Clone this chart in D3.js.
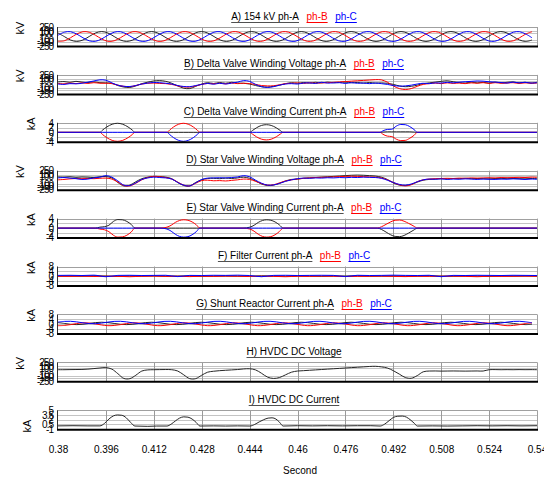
<!DOCTYPE html>
<html><head><meta charset="utf-8">
<script src="https://cdn.jsdelivr.net/npm/d3@7"></script>
<style>
body{margin:0;background:#fff}
text{font-family:"Liberation Sans",Arial,Helvetica,sans-serif}
</style>
</head><body>
<svg id="chart" width="544" height="480"></svg>
<script>
// ---------------- DATA ----------------
const xTickValues = [0.38,0.396,0.412,0.428,0.444,0.46,0.476,0.492,0.508,0.524,0.54];
const xTickLabels = ["0.38","0.396","0.412","0.428","0.444","0.46","0.476","0.492","0.508","0.524","0.54"];
const xTitle = "Second";

const panelTitles = ["A) 154 kV ph-A","B) Delta Valve Winding Voltage ph-A","C) Delta Valve Winding Current ph-A",
  "D) Star Valve Winding Voltage ph-A","E) Star Valve Winding Current ph-A","F) Filter Current ph-A",
  "G) Shunt Reactor Current ph-A","H) HVDC DC Voltage","I) HVDC DC Current"];
const phaseNames = ["ph-B","ph-C"];
const units = ["kV","kV","kA","kV","kA","kA","kA","kV","kA"];

const kvTicks = [250,150,100,-100,-150,-250];
const ka4Ticks = [4,2,0,-2,-4];
const ka8Ticks = [8,4,0,-4,-8];
const dcTicks = [5,3.5,2,0.5,-1];

// A) 154 kV (sampled every 1/480 s from 0.38 s)
const aPhA = [92,0,-92,-130,-92,0,92,130, 92,0,-92,-130,-92,0,92,130, 92,0,-92,-130,-92,0,92,130,
  92,0,-92,-130,-92,0,92,130, 92,0,-92,-130,-92,0,92,130, 92,0,-92,-130,-92,0,92,130,
  92,0,-92,-130,-92,0,92,130, 92,0,-92,-130,-92,0,92,130, 92,0,-92,-130,-92,0,92,130, 92,0,-92,-130,-92];
const aPhB = [-126,-113,-34,65,126,113,34,-65, -126,-113,-34,65,126,113,34,-65, -126,-113,-34,65,126,113,34,-65,
  -126,-113,-34,65,126,113,34,-65, -126,-113,-34,65,126,113,34,-65, -126,-113,-34,65,126,113,34,-65,
  -126,-113,-34,65,126,113,34,-65, -126,-113,-34,65,126,113,34,-65, -126,-113,-34,65,126,113,34,-65, -126,-113,-34,65,126];
const aPhC = [34,113,126,65,-34,-113,-126,-65, 34,113,126,65,-34,-113,-126,-65, 34,113,126,65,-34,-113,-126,-65,
  34,113,126,65,-34,-113,-126,-65, 34,113,126,65,-34,-113,-126,-65, 34,113,126,65,-34,-113,-126,-65,
  34,113,126,65,-34,-113,-126,-65, 34,113,126,65,-34,-113,-126,-65, 34,113,126,65,-34,-113,-126,-65, 34,113,126,65,-34];

// B) Delta valve winding voltage (every 2 ms)
const bPhA = [65,75,55,80,60,50,65,45, 40,30,-30,-70,-80,-40,20,60, 90,100,80,30,-40,-100,-110,-50,
  10,45,25,50,30,55,35,30, 10,-30,-60,-70,-50,-20,20,45, 30,50,35,55,40,60,45,50,
  60,45,50,35,50,35,40,30, 0,-40,-60,-50,-20,20,40,60, 80,95,70,50,35,60,40,55, 35,60,40,55,65,40,55,35, 55];
const bPhB = [25,15,35,20,40,25,45,30, 30,20,-20,-50,-60,-30,10,30, 35,25,20,0,-40,-65,-70,-40,
  0,25,15,30,15,35,20,30, 20,0,-30,-40,-35,-10,20,30, 40,25,45,30,40,45,55,65,
  75,85,95,105,115,125,120,60, -40,-110,-135,-110,-50,0,20,35, 20,40,25,35,20,40,30,45, 25,45,30,35,45,25,40,30, 35];
const bPhC = [10,0,20,15,30,60,90,120, 110,40,-20,-50,-55,-30,10,35, 50,45,30,10,-30,-55,-60,-30,
  0,25,5,30,10,35,60,100, 80,0,-60,-80,-60,-20,10,20, 10,35,40,25,55,35,40,45,
  25,45,30,35,20,35,20,0, -30,-45,-40,-20,10,30,20,40, 35,55,40,60,70,80,90,85, 70,60,50,35,60,40,55,35, 45];

// C) Delta valve winding current (irregular sample times)
const cTime = [0.38,
  0.394,0.3949,0.3963,0.3981,0.39985,0.4016,0.4034,0.4048,0.4057,
  0.4164,0.4173,0.4186,0.4203,0.4219,0.4235,0.4252,0.4265,0.4274,
  0.4441,0.445,0.4463,0.448,0.4496,0.4512,0.4529,0.4542,0.4552,
  0.4876,0.4885,0.49,0.4915,0.493,0.4945,0.496,0.4975,0.499,0.5,
  0.54];
const cPhA = [0, 0,0.95,2.25,3.4,3.8,3.4,2.25,0.95,0, 0,0,0,0,0,0,0,0,0,
  0,0.8,1.9,2.9,3.2,2.9,1.9,0.8,0, 0,0.1,0.2,0.2,0.2,0.2,0.2,0.2,0.1,0, 0];
const cPhB = [0, 0,-0.95,-2.25,-3.4,-3.8,-3.4,-2.25,-0.95,0, 0,0.95,2.25,3.4,3.8,3.4,2.25,0.95,0,
  0,-0.8,-1.9,-2.9,-3.2,-2.9,-1.9,-0.8,0, 0,-0.8,-1.6,-1.8,-2.9,-3.5,-3.4,-2.5,-1.2,0, 0];
const cPhC = [0, 0,0,0,0,0,0,0,0,0, 0,-0.95,-2.25,-3.4,-3.8,-3.4,-2.25,-0.95,0,
  0,0,0,0,0,0,0,0,0, 0,0.6,1.2,1.3,2.6,3.3,3.2,2.4,1.1,0, 0];

// D) Star valve winding voltage (every 2 ms)
const dPhA = [85,80,90,75,85,80,70,90, 95,60,-60,-150,-130,-40,40,80, 100,95,80,40,-60,-140,-150,-60,
  10,45,50,40,55,45,60,80, 50,-20,-100,-140,-130,-80,-20,20, 30,50,60,70,80,90,100,110,
  120,130,135,130,120,110,80,20, -70,-130,-140,-110,-50,0,20,30, 40,35,45,40,50,40,45,40, 35,45,40,50,45,40,35,45, 40];
const dPhB = [10,20,35,45,40,45,40,50, 55,30,-50,-140,-150,-80,10,70, 100,90,70,30,-50,-130,-150,-80,
  -10,0,-15,-10,-20,-5,10,30, 20,-30,-90,-130,-120,-70,-20,10, 30,50,60,70,75,80,85,95,
  100,105,100,95,85,80,60,10, -60,-120,-150,-120,-40,10,30,40, 45,50,45,55,50,60,55,60, 65,60,70,65,70,75,70,80, 75];
const dPhC = [60,70,55,40,20,30,60,80, 120,80,-20,-130,-140,-70,20,60, 80,70,60,30,-60,-130,-150,-70,
  20,55,60,65,60,70,85,120, 90,0,-80,-130,-125,-85,-30,10, 40,55,50,60,55,65,60,70,
  65,75,70,80,75,70,50,0, -60,-110,-130,-100,-40,10,30,25, 35,20,30,25,35,30,20,30, 25,20,30,25,35,30,20,30, 25];

// E) Star valve winding current (irregular sample times)
const eTime = [0.38,
  0.3924,0.394,0.3955,0.397,0.3985,0.4,0.4015,0.403,0.4045,0.4057,
  0.4144,0.4164,0.4178,0.4192,0.4206,0.422,0.4234,0.4248,0.4262,0.4274,
  0.4418,0.4441,0.4455,0.4469,0.4483,0.4497,0.4511,0.4525,0.4539,0.4552,
  0.4866,0.4881,0.4896,0.4911,0.4926,0.4941,0.4956,0.4971,0.4986,0.5002,
  0.54];
const ePhA = [0, 0,0.4,0.6,1.2,2.8,3.6,3.5,2.8,1.5,0, 0,0,0,0,0,0,0,0,0,0,
  0,0.4,1.2,2.4,3.2,3.5,3.3,2.6,1.4,0, 0,-0.6,-1.7,-2.8,-3.5,-3.6,-3.1,-2.1,-1.0,0, 0];
const ePhB = [0, 0,-0.4,-0.7,-1.5,-3.0,-3.8,-3.7,-3.0,-1.6,0, 0,0.4,1.2,2.4,3.2,3.5,3.3,2.6,1.4,0,
  0,-0.4,-1.3,-2.6,-3.5,-3.8,-3.6,-2.8,-1.5,0, 0,0.6,1.6,2.6,3.3,3.4,2.9,2.0,1.0,0, 0];
const ePhC = [0, 0,0,0,0,0,0,0,0,0,0, 0,-0.4,-1.3,-2.6,-3.5,-3.8,-3.6,-2.8,-1.5,0,
  0,0,0,0,0,0,0,0,0,0, 0,0,0,0,0,0,0,0,0,0, 0];

// F) Filter current (every 4 ms)
const fPhA = [0,0.1,-0.1,0.2,0,-0.2,0.1,0,0.2,-0.1, 0,0.1,-0.2,0,0.1,0,-0.1,0.2,0,-0.1,
  0.1,0,-0.2,0.1,0,0.2,-0.1,0,0.1,-0.1, 0,0.2,0,-0.1,0.1,0,-0.2,0.1,0,0.1, 0];
const fPhB = [-0.2,-0.3,-0.1,-0.4,-0.2,-0.3,-0.6,-0.2,-0.1,-0.3, -0.2,-0.5,-0.2,-0.3,-0.1,-0.2,-0.4,-0.2,-0.3,-0.6,
  -0.2,-0.3,-0.1,-0.2,-0.4,-0.3,-0.2,-0.1,-0.3,-0.5, -0.2,-0.3,-0.2,-0.1,-0.3,-0.6,-0.2,-0.3,-0.2,-0.1, -0.2];
const fPhC = [0.5,0.6,0.4,0.7,-0.6,0.5,0.6,0.4,0.5,0.6, -0.5,0.5,0.4,0.6,0.5,0.7,0.4,-0.6,0.5,0.6,
  0.4,0.5,0.6,0.5,-0.5,0.6,0.4,0.5,0.7,0.5, 0.4,0.6,-0.6,0.5,0.4,0.6,0.5,0.4,0.6,0.5, 0.4];

// G) Shunt reactor current (every 1/480 s)
const gPhA = [1.1,0.4,-0.3,-0.6,-0.3,0.4,1.1,1.4, 1.1,0.4,-0.3,-0.6,-0.3,0.4,1.1,1.4, 1.1,0.4,-0.3,-0.6,-0.3,0.4,1.1,1.4,
  1.1,0.4,-0.3,-0.6,-0.3,0.4,1.1,1.4, 1.1,0.4,-0.3,-0.6,-0.3,0.4,1.1,1.4, 1.1,0.4,-0.3,-0.6,-0.3,0.4,1.1,1.4,
  1.1,0.4,-0.3,-0.6,-0.3,0.4,1.1,1.4, 1.1,0.4,-0.3,-0.6,-0.3,0.4,1.1,1.4, 1.1,0.4,-0.3,-0.6,-0.3,0.4,1.1,1.4, 1.1,0.4,-0.3,-0.6,-0.3];
const gPhB = [-1.5,-1.3,-0.6,0.3,0.9,0.7,0,-0.9, -1.5,-1.3,-0.6,0.3,0.9,0.7,0,-0.9, -1.5,-1.3,-0.6,0.3,0.9,0.7,0,-0.9,
  -1.5,-1.3,-0.6,0.3,0.9,0.7,0,-0.9, -1.5,-1.3,-0.6,0.3,0.9,0.7,0,-0.9, -1.5,-1.3,-0.6,0.3,0.9,0.7,0,-0.9,
  -1.5,-1.3,-0.6,0.3,0.9,0.7,0,-0.9, -1.5,-1.3,-0.6,0.3,0.9,0.7,0,-0.9, -1.5,-1.3,-0.6,0.3,0.9,0.7,0,-0.9, -1.5,-1.3,-0.6,0.3,0.9];
const gPhC = [1.5,2.1,2.2,1.7,0.9,0.3,0.2,0.7, 1.5,2.1,2.2,1.7,0.9,0.3,0.2,0.7, 1.5,2.1,2.2,1.7,0.9,0.3,0.2,0.7,
  1.5,2.1,2.2,1.7,0.9,0.3,0.2,0.7, 1.5,2.1,2.2,1.7,0.9,0.3,0.2,0.7, 1.5,2.1,2.2,1.7,0.9,0.3,0.2,0.7,
  1.5,2.1,2.2,1.7,0.9,0.3,0.2,0.7, 1.5,2.1,2.2,1.7,0.9,0.3,0.2,0.7, 1.5,2.1,2.2,1.7,0.9,0.3,0.2,0.7, 1.5,2.1,2.2,1.7,0.9];

// H) HVDC DC voltage (every 2 ms)
const hVolt = [55,55,58,60,62,70,85,100, 110,70,-50,-175,-180,-90,20,50, 55,58,60,55,20,-80,-180,-180,
  -90,-10,15,30,40,50,60,75, 80,50,-40,-140,-175,-150,-80,-10, 20,30,40,50,60,70,80,90,
  100,110,120,130,140,145,130,100, 30,-60,-150,-170,-100,0,20,22, 18,20,22,20,18,20,22,20, 55,58,55,57,55,58,56,57, 55];

// I) HVDC DC current (irregular sample times)
const iTime = [0.38,0.385,0.39,
  0.394,0.3955,0.397,0.3985,0.3999,0.4013,0.4028,0.4043,0.4057,
  0.41,0.413,
  0.4164,0.4178,0.4192,0.4206,0.422,0.4234,0.4248,0.4262,0.4274,
  0.432,0.436,0.44,
  0.4441,0.4457,0.4472,0.4487,0.4502,0.4515,0.4528,0.454,0.4552,
  0.46,0.465,0.47,0.475,0.48,0.4845,
  0.4876,0.4891,0.4906,0.492,0.4935,0.495,0.4964,0.4979,0.4991,0.5,
  0.505,0.51,0.515,0.52,0.525,0.53,0.535,0.54];
const iCurr = [0.05,0.1,0.05,
  0.05,0.8,2.2,3.2,3.5,3.4,2.6,1.1,0,
  -0.1,0,
  0,0.6,1.6,2.5,2.9,2.8,2.2,1.1,0,
  0.05,0,0.05,
  0,0.5,1.3,2.0,2.5,2.6,2.2,1.2,0,
  0.1,0.05,0.1,0.05,0.1,0.1,
  0,0.6,1.7,2.7,3.1,3.15,2.8,1.8,0.8,0,
  0.05,0,0.05,0.1,0.05,0.1,0.05,0.1];

// ---------------- CHART ----------------
const T0 = 0.38;
const regular = (arr, dt) => d3.range(arr.length).map(i => T0 + i * dt);

const seriesColors = ["#262626", "#ff0000", "#0000ff"];
const panels = [
  {dom:[-250,250], ticks:kvTicks, series:[aPhA,aPhB,aPhC], time:regular(aPhA,1/480), curve:d3.curveCatmullRom},
  {dom:[-250,250], ticks:kvTicks, series:[bPhA,bPhB,bPhC], time:regular(bPhA,0.002), curve:d3.curveCatmullRom},
  {dom:[-4,4], ticks:ka4Ticks, series:[cPhA,cPhB,cPhC], time:cTime, curve:d3.curveMonotoneX},
  {dom:[-250,250], ticks:kvTicks, series:[dPhA,dPhB,dPhC], time:regular(dPhA,0.002), curve:d3.curveCatmullRom},
  {dom:[-4,4], ticks:ka4Ticks, series:[ePhA,ePhB,ePhC], time:eTime, curve:d3.curveMonotoneX},
  {dom:[-8,8], ticks:ka8Ticks, series:[fPhA,fPhB,fPhC], time:regular(fPhA,0.004), curve:d3.curveMonotoneX},
  {dom:[-8,8], ticks:ka8Ticks, series:[gPhA,gPhB,gPhC], time:regular(gPhA,1/480), curve:d3.curveCatmullRom},
  {dom:[-250,250], ticks:kvTicks, series:[hVolt], time:regular(hVolt,0.002), curve:d3.curveCatmullRom},
  {dom:[-1,5], ticks:dcTicks, series:[iCurr], time:iTime, curve:d3.curveMonotoneX}
];

const svg = d3.select("#chart");
const L = 58, R = 537, TOP0 = 27, STEP = 47.9, PH = 19;
const x = d3.scaleLinear().domain([0.38, 0.54]).range([L, R]);
const FONT = '"Liberation Sans",Arial,sans-serif';

panels.forEach((p, k) => {
  const top = TOP0 + STEP * k, bot = top + PH;
  const y = d3.scaleLinear().domain(p.dom).range([bot, top]);
  const g = svg.append("g");

  g.append("g").selectAll("line").data(p.ticks).join("line")
    .attr("x1", L).attr("x2", R)
    .attr("y1", d => Math.round(y(d)) + 0.5).attr("y2", d => Math.round(y(d)) + 0.5)
    .attr("stroke", "#c4c4c4").attr("stroke-width", 1);
  g.append("g").selectAll("line").data(xTickValues.slice(1, -1)).join("line")
    .attr("x1", d => Math.round(x(d)) + 0.5).attr("x2", d => Math.round(x(d)) + 0.5)
    .attr("y1", top).attr("y2", bot)
    .attr("stroke", "#9a9a9a").attr("stroke-width", 1);
  g.append("line").attr("x1", L).attr("x2", R).attr("y1", Math.round(top) + 0.5).attr("y2", Math.round(top) + 0.5).attr("stroke", "#a0a0a0");
  g.append("line").attr("x1", R + 0.5).attr("x2", R + 0.5).attr("y1", top).attr("y2", bot).attr("stroke", "#a0a0a0");
  g.append("line").attr("x1", L - 0.5).attr("x2", L - 0.5).attr("y1", top).attr("y2", bot + 1).attr("stroke", "#303030");

  const cid = "clip" + k;
  svg.append("clipPath").attr("id", cid).append("rect")
    .attr("x", L).attr("y", top - 1).attr("width", R - L).attr("height", PH + 2);

  const line = d3.line().curve(p.curve);
  const lg = g.append("g").attr("clip-path", `url(#${cid})`);
  p.series.forEach((s, j) => {
    const pts = s.map((v, i) => [x(p.time[i]), y(v)]);
    lg.append("path").attr("d", line(pts)).attr("fill", "none")
      .attr("stroke", seriesColors[j]).attr("stroke-width", 1);
  });

  g.append("line").attr("x1", L - 1).attr("x2", R + 1).attr("y1", bot + 0.5).attr("y2", bot + 0.5)
    .attr("stroke", "#000").attr("stroke-width", 2);

  const ya = g.append("g").attr("transform", "translate(53,0)")
    .call(d3.axisLeft(y).tickValues(p.ticks).tickSize(0).tickPadding(0).tickFormat(d => String(d)));
  ya.select(".domain").remove();
  ya.selectAll("text").attr("font-family", FONT).attr("font-size", 10)
    .attr("letter-spacing", "-1px").attr("fill", "#000");

  const ux = units[k] === "kV" ? 20 : (k === 8 ? 27 : 31);
  const uy = k === 8 ? top + 16 : top + 1;
  svg.append("text").attr("transform", `translate(${ux},${uy}) rotate(-90)`)
    .attr("text-anchor", "middle").attr("dominant-baseline", "central")
    .attr("font-size", 11).attr("font-family", FONT).text(units[k]);

  const tg = svg.append("g");
  const parts = [{text: panelTitles[k], color: "#000", ul: "#505050"}];
  if (k < 7) {
    parts.push({text: phaseNames[0], color: "#ff0000", ul: "#ff0000"});
    parts.push({text: phaseNames[1], color: "#0000ff", ul: "#0000ff"});
  }
  let cx = 0;
  parts.forEach(pt => {
    const t = tg.append("text").attr("x", cx).attr("y", top - 7.5)
      .attr("font-size", 10).attr("font-family", FONT).attr("fill", pt.color).text(pt.text);
    const w = t.node().getComputedTextLength();
    tg.append("line").attr("x1", cx).attr("x2", cx + w)
      .attr("y1", Math.round(top - 5.5) + 0.5).attr("y2", Math.round(top - 5.5) + 0.5)
      .attr("stroke", pt.ul).attr("stroke-width", 1);
    cx += w + 7.5;
  });
  const total = cx - 7.5;
  tg.attr("transform", `translate(${(294 - total / 2).toFixed(1)},0)`);
});

const xa = svg.append("g").attr("transform", "translate(0,452.5)")
  .call(d3.axisBottom(x).tickValues(xTickValues).tickSize(0).tickPadding(0)
    .tickFormat((d, i) => xTickLabels[i]));
xa.select(".domain").remove();
xa.selectAll("text").attr("y", 0).attr("dy", null)
  .attr("font-family", FONT).attr("font-size", 10).attr("fill", "#000");

svg.append("text").attr("x", 300).attr("y", 474).attr("text-anchor", "middle")
  .attr("font-family", FONT).attr("font-size", 10).text(xTitle);
</script>
</body></html>
